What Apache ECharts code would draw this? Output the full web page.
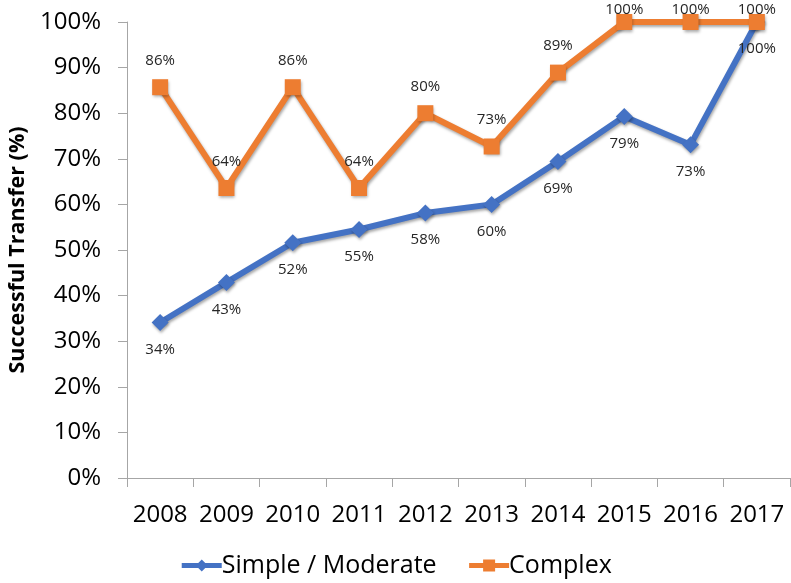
<!DOCTYPE html>
<html>
<head>
<meta charset="utf-8">
<script src="https://cdn.jsdelivr.net/npm/echarts@6/dist/echarts.min.js"></script>
<style>html,body{margin:0;padding:0;background:#fff;}#c{width:791px;height:583px;}</style>
</head>
<body>
<div id="c"></div>
<script>
var years = ['2008','2009','2010','2011','2012','2013','2014','2015','2016','2017'];
var simpleModerate = [34.1, 42.9, 51.6, 54.5, 58.1, 60.0, 69.4, 79.3, 73.1, 100];
var complex = [85.7, 63.6, 85.7, 63.6, 80.0, 72.7, 88.9, 100, 100, 100];
var yTicks = [0, 10, 20, 30, 40, 50, 60, 70, 80, 90, 100];

var FONT = 'Open Sans';
var chart = echarts.init(document.getElementById('c'), null, {renderer: 'canvas'});
var shadow = {shadowBlur: 3, shadowColor: 'rgba(0,0,0,0.35)', shadowOffsetX: 1, shadowOffsetY: 2};
var yMax = yTicks[yTicks.length - 1];
// labels of points sitting on the top edge are pulled inside the plot, as in the original
var complexData = complex.map(function (v) {
  return v >= yMax ? {value: v, label: {distance: -3}} : v;
});
chart.setOption({
  animation: false,
  textStyle: {fontFamily: FONT},
  grid: {left: 127, right: 1, top: 22, bottom: 105, containLabel: false, outerBoundsMode: 'none'},
  legend: {
    top: 548, left: 'center', itemWidth: 40, itemHeight: 15, itemGap: 30,
    lineStyle: {width: 5},
    textStyle: {fontFamily: FONT, fontSize: 25, color: '#000', padding: [0, 0, 0, -5]},
    data: ['Simple / Moderate', 'Complex']
  },
  xAxis: {
    type: 'category', data: years, boundaryGap: true,
    axisLine: {show: true, lineStyle: {color: '#a6a6a6', width: 1}},
    axisTick: {show: true, length: 9, alignWithLabel: false, lineStyle: {color: '#a6a6a6'}},
    axisLabel: {fontFamily: FONT, fontSize: 24, color: '#000', margin: 25, interval: 0},
    splitLine: {show: false}
  },
  yAxis: {
    type: 'value', min: yTicks[0], max: yMax, interval: yTicks[1] - yTicks[0],
    name: 'Successful Transfer (%)', nameLocation: 'middle', nameGap: 98,
    nameTextStyle: {fontFamily: FONT, fontSize: 21.5, fontWeight: 'bold', color: '#000'},
    axisLine: {show: true, lineStyle: {color: '#a6a6a6', width: 1}},
    axisTick: {show: true, length: 9, lineStyle: {color: '#a6a6a6'}},
    axisLabel: {fontFamily: FONT, fontSize: 24, color: '#000', margin: 26, formatter: '{value}%'},
    splitLine: {show: false}
  },
  series: [
    {
      name: 'Simple / Moderate', type: 'line', data: simpleModerate,
      symbol: 'diamond', symbolSize: [17, 17],
      lineStyle: Object.assign({color: '#4472C4', width: 6}, shadow),
      itemStyle: Object.assign({color: '#4472C4'}, shadow),
      label: {show: true, position: 'bottom', distance: 11, fontFamily: FONT, fontSize: 15, color: '#262626',
        formatter: function (p) { return Math.round(p.value) + '%'; }},
      labelLayout: {hideOverlap: false},
      z: 2
    },
    {
      name: 'Complex', type: 'line', data: complexData,
      symbol: 'rect', symbolSize: 16,
      lineStyle: Object.assign({color: '#ED7D31', width: 6}, shadow),
      itemStyle: Object.assign({color: '#ED7D31'}, shadow),
      label: {show: true, position: 'top', distance: 11, fontFamily: FONT, fontSize: 15, color: '#262626',
        formatter: function (p) { return Math.round(p.value) + '%'; }},
      labelLayout: {hideOverlap: false},
      z: 3
    }
  ]
});
</script>
</body>
</html>
